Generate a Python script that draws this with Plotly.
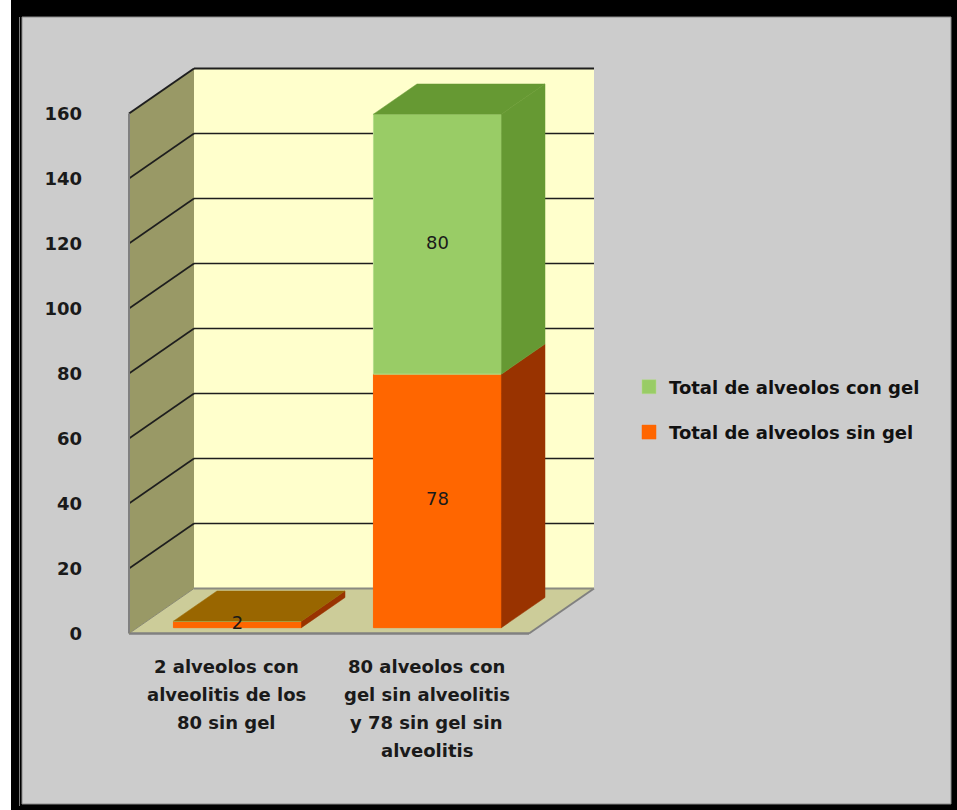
import plotly.graph_objects as go

# ---------------- data ----------------
categories = [
    "2 alveolos con\nalveolitis de los\n80 sin gel",
    "80 alveolos con\ngel sin alveolitis\ny 78 sin gel sin\nalveolitis",
]
series_names = ["Total de alveolos sin gel", "Total de alveolos con gel"]
sin_gel = [2, 78]
con_gel = [0, 80]
y_ticks = [0, 20, 40, 60, 80, 100, 120, 140, 160]

# ---------------- style ----------------
FONT = "DejaVu Sans"
FRONT = ["#FF6600", "#99CC66"]
SIDE = ["#993300", "#669933"]
TOP = ["#996600", "#669933"]
OUTLINE = ["#FF6600", "#B5DD8A"]
WALL_BACK = "#FFFFCC"
WALL_SIDE = "#999966"
FLOOR = "#CCCC99"

# pseudo-3D projection, in data units
DX = 0.325        # depth offset along the category axis
DY = 13.85        # depth offset along the value axis
F0, F1 = 0.13, 0.80   # bar front / back position inside the depth
BAR_W = 0.64

n = len(categories)
x0, x1 = -0.5, n - 0.5
ytop = y_ticks[-1]

# figure / plot-area geometry
FIG_W, FIG_H = 957, 810
ML, MR, MT, MB = 119, 328, 55, 170
PW, PH = FIG_W - ML - MR, FIG_H - MT - MB


def pxx(p):   # page pixel -> paper x (paper is relative to the plot area)
    return (p - ML) / PW


def pxy(p):   # page pixel -> paper y
    return (FIG_H - MB - p) / PH


def path(pts):
    return "M " + " L ".join(f"{x},{y}" for x, y in pts) + " Z"


def seg(xa, ya, xb, yb, color, width):
    return dict(type="line", xref="x", yref="y", x0=xa, y0=ya, x1=xb, y1=yb,
                line=dict(color=color, width=width), layer="below")


def prect(a, b, c, e, fill, line=None):
    return dict(type="rect", xref="paper", yref="paper",
                x0=pxx(a), x1=pxx(b), y0=pxy(e), y1=pxy(c),
                fillcolor=fill, line=line or dict(width=0), layer="below")


shapes = [
    # outer frame
    prect(0, 11, 0, FIG_H, "white"),
    prect(11, FIG_W, 0, FIG_H, "black"),
    prect(19, 20, 17, 806, "#7a7a7a"),
    prect(22, 951, 17, 804, "#CCCCCC", dict(color="#8a8a8a", width=1)),
    # back wall
    dict(type="rect", xref="x", yref="y", x0=x0 + DX, x1=x1 + DX, y0=DY, y1=ytop + DY,
         fillcolor=WALL_BACK, line=dict(width=0), layer="below"),
    # side wall
    dict(type="path", xref="x", yref="y",
         path=path([(x0, 0), (x0, ytop), (x0 + DX, ytop + DY), (x0 + DX, DY)]),
         fillcolor=WALL_SIDE, line=dict(width=0), layer="below"),
    # floor
    dict(type="path", xref="x", yref="y",
         path=path([(x0, 0), (x1, 0), (x1 + DX, DY), (x0 + DX, DY)]),
         fillcolor=FLOOR, line=dict(width=0), layer="below"),
]
# gridlines on back and side walls
for v in y_ticks[1:]:
    w = 2 if v == ytop else 1.6
    shapes.append(seg(x0 + DX, v + DY, x1 + DX, v + DY, "#1e1e1e", w))
    shapes.append(seg(x0, v, x0 + DX, v + DY, "#1e1e1e", w))
# wall / floor edges
shapes += [
    seg(x0, 0, x0, ytop, "#808080", 2),
    seg(x0, 0, x1, 0, "#808080", 2.5),
    seg(x1, 0, x1 + DX, DY, "#808080", 2),
    seg(x0 + DX, DY, x1 + DX, DY, "#8a8a80", 2),
    seg(x0, 0, x0 + DX, DY, "#8a8a70", 1),
]

fig = go.Figure()

all_series = [sin_gel, con_gel]
totals = [sum(s[i] for s in all_series) for i in range(n)]
bases = [0] * n
xs = [i + F0 * DX for i in range(n)]
d = F1 - F0
label_x, label_y, label_t = [], [], []
for k, vals in enumerate(all_series):
    fig.add_trace(go.Bar(
        x=xs, y=vals, base=[b + F0 * DY for b in bases], width=BAR_W,
        name=series_names[k], showlegend=False,
        marker=dict(color=FRONT[k], line=dict(color=OUTLINE[k], width=1)),
        hoverinfo="skip",
    ))
    for i, v in enumerate(vals):
        if not v:
            continue
        b0, b1 = bases[i], bases[i] + v
        label_x.append(xs[i])
        label_y.append((b0 + b1) / 2 + F0 * DY)
        label_t.append(str(v))
        xr = xs[i] + BAR_W / 2
        xl = xs[i] - BAR_W / 2
        side = [(xr, b0 + F0 * DY), (xr, b1 + F0 * DY),
                (xr + d * DX, b1 + F1 * DY), (xr + d * DX, b0 + F1 * DY), (xr, b0 + F0 * DY)]
        fig.add_trace(go.Scatter(
            x=[p[0] for p in side], y=[p[1] for p in side], mode="lines",
            fill="toself", fillcolor=SIDE[k], line=dict(width=0.5, color=SIDE[k]),
            showlegend=False, hoverinfo="skip"))
        if b1 == totals[i]:
            top = [(xl, b1 + F0 * DY), (xr, b1 + F0 * DY),
                   (xr + d * DX, b1 + F1 * DY), (xl + d * DX, b1 + F1 * DY), (xl, b1 + F0 * DY)]
            fig.add_trace(go.Scatter(
                x=[p[0] for p in top], y=[p[1] for p in top], mode="lines",
                fill="toself", fillcolor=TOP[k], line=dict(width=0.5, color=TOP[k]),
                showlegend=False, hoverinfo="skip"))
    bases = [bases[i] + vals[i] for i in range(n)]

# data labels, centred on each front face (drawn above all faces)
fig.add_trace(go.Scatter(
    x=label_x, y=label_y, text=label_t, mode="text", textposition="middle center",
    textfont=dict(family=FONT, size=18, color="#1a1a1a"),
    showlegend=False, hoverinfo="skip", cliponaxis=False))

# legend entries (square swatches in the series colours)
for k in range(len(series_names)):
    fig.add_trace(go.Scatter(
        x=[None], y=[None], mode="markers", name=series_names[k],
        legendgroup=series_names[k], legendrank=len(series_names) - k,
        marker=dict(symbol="square", size=14, color=FRONT[k],
                    line=dict(width=0.5, color=OUTLINE[k])),
        hoverinfo="skip"))

# category labels under the floor
annotations = []
for i, lab in enumerate(categories):
    for j, line in enumerate(lab.split("\n")):
        annotations.append(dict(
            x=i - 0.012, y=0, xref="x", yref="y", text=line, showarrow=False,
            yshift=-(32.5 + 28 * j), yanchor="middle", xanchor="center",
            font=dict(family=FONT, size=18, color="#1a1a1a", weight="bold")))

fig.update_layout(
    width=FIG_W, height=FIG_H,
    margin=dict(l=ML, r=MR, t=MT, b=MB, pad=0),
    paper_bgcolor="#CCCCCC",
    plot_bgcolor="rgba(0,0,0,0)",
    barmode="overlay",
    shapes=shapes,
    annotations=annotations,
    showlegend=True,
    legend=dict(
        x=pxx(629), y=pxy(368.5), xanchor="left", yanchor="top",
        bgcolor="rgba(0,0,0,0)", traceorder="grouped", tracegroupgap=19,
        font=dict(family=FONT, size=18, color="#111111", weight="bold"),
    ),
    xaxis=dict(range=[-0.55, 2.0], showgrid=False, zeroline=False,
               showticklabels=False, showline=False, ticks="", fixedrange=True),
    yaxis=dict(range=[-2, 178], showgrid=False, zeroline=False, showline=False,
               tickvals=y_ticks, ticktext=[str(t) for t in y_ticks], ticks="",
               ticklabelstandoff=36,
               tickfont=dict(family=FONT, size=18, color="#1a1a1a", weight="bold"),
               fixedrange=True),
)

fig.write_html("out.html", config={"displayModeBar": False},
               post_script="document.body.style.margin='0';")
